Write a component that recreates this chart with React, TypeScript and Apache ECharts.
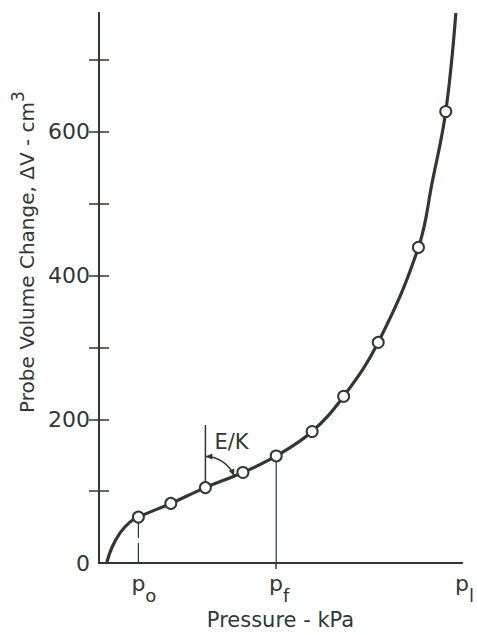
import React, { useEffect, useRef } from "react";
import * as echarts from "echarts";

// Measured points (pressure in arbitrary units 0..100 between origin and p_l; volume in cm3)
const pressure = [10.85, 19.78, 29.31, 39.64, 48.82, 58.71, 67.39, 76.92, 87.99, 95.52];
const volume = [64, 83, 105, 126, 149, 183, 232, 307, 439, 628];

// Points
const curvePressure = [2.1, 3.5, 5.8, 8.5, 10.85, 19.78, 29.31, 39.64, 48.82, 58.71, 67.39, 76.92, 87.99, 91.8, 95.52, 98.3];
const curveVolume = [0, 21, 42, 57, 64, 83, 105, 126, 149, 183, 232, 307, 439, 530, 628, 765];

const yTickValues = [100, 200, 300, 400, 500, 600, 700];
const yLabelValues = [0, 200, 400, 600];
const pO = 10.85;
const pF = 48.82;
const pL = 100;
const xLabelValues = [pO, pF, pL];
const xLabelSubs = ["o", "f", "l"];
const ekTop = 192;

const ink = "#2d3a32";
const font = "DejaVu Sans";

export default function App() {
  const ref = useRef<HTMLDivElement>(null);
  useEffect(() => {
    const chart = echarts.init(ref.current!, null, { renderer: "svg" });
    const pStyle = (padLeft: number) => ({
      fontSize: 22,
      fontFamily: font,
      color: ink,
      lineHeight: 32,
      verticalAlign: "top",
      padding: [0, 0, 0, padLeft],
    });
    const option: any = {
      animation: false,
      backgroundColor: "#ffffff",
      grid: { left: 99, right: 14, top: 13, bottom: 68 },
      xAxis: [
        {
          type: "value",
          min: 0,
          max: 100,
          position: "bottom",
          axisLine: { show: true, lineStyle: { color: ink, width: 2 } },
          splitLine: { show: false },
          axisTick: { show: true, customValues: [pF], length: 6, lineStyle: { color: ink, width: 1.5 } },
          axisLabel: {
            show: true,
            customValues: xLabelValues,
            margin: 9,
            formatter: (v: number) => {
              let i = 0;
              xLabelValues.forEach((x, k) => {
                if (Math.abs(x - v) < 1e-6) i = k;
              });
              return `{p${i}|p}{s|${xLabelSubs[i]}}`;
            },
            rich: {
              p0: pStyle(11),
              p1: pStyle(6),
              p2: pStyle(5),
              s: { fontSize: 18, fontFamily: font, color: ink, lineHeight: 18, verticalAlign: "bottom" },
            },
          },
          name: "Pressure - kPa",
          nameLocation: "middle",
          nameGap: 42,
          nameTextStyle: { fontSize: 21, fontFamily: font, color: ink },
        },
        {
          type: "value",
          min: 0,
          max: 100,
          position: "top",
          axisLine: { show: true, lineStyle: { color: ink, width: 2 } },
          axisTick: { show: false },
          axisLabel: { show: false },
          splitLine: { show: false },
        },
      ],
      yAxis: [
        {
          type: "value",
          min: 0,
          max: 765,
          position: "left",
          axisLine: { show: true, lineStyle: { color: ink, width: 2 } },
          axisTick: { show: true, inside: true, length: 10, customValues: yTickValues, lineStyle: { color: ink, width: 1.5 } },
          axisLabel: { show: true, customValues: yLabelValues, margin: 9, fontSize: 22, fontFamily: font, color: ink },
          splitLine: { show: false },
          name: "{t|Probe Volume Change, ΔV - cm}{sup|3}",
          nameLocation: "middle",
          nameGap: 62,
          nameRotate: 90,
          nameTextStyle: {
            fontSize: 20,
            fontFamily: font,
            color: ink,
            padding: [0, 0, 0, 72],
            rich: {
              t: { fontSize: 20, fontFamily: font, color: ink, lineHeight: 28, verticalAlign: "bottom" },
              sup: { fontSize: 17, fontFamily: font, color: ink, lineHeight: 17, verticalAlign: "top" },
            },
          },
        },
        {
          type: "value",
          min: 0,
          max: 765,
          position: "right",
          axisLine: { show: true, lineStyle: { color: ink, width: 2 } },
          axisTick: { show: true, inside: true, length: 10, customValues: yTickValues, lineStyle: { color: ink, width: 1.5 } },
          axisLabel: { show: false },
          splitLine: { show: false },
        },
      ],
      series: [
        {
          type: "line",
          data: curvePressure.map((x, i) => [x, curveVolume[i]]),
          smooth: 0.4,
          showSymbol: false,
          symbol: "none",
          lineStyle: { color: ink, width: 3.2 },
          z: 3,
        },
        {
          type: "line",
          data: [
            [pO, 0],
            [pO, volume[0]],
          ],
          symbol: "none",
          lineStyle: { color: ink, width: 1.2, type: [20, 5] },
          z: 2,
        },
        {
          type: "line",
          data: [
            [pF, 0],
            [pF, volume[4]],
          ],
          symbol: "none",
          lineStyle: { color: ink, width: 1.2 },
          z: 2,
        },
        {
          type: "custom",
          data: [[pressure[2], volume[2], ekTop, pressure[3], volume[3]]],
          encode: { x: 0, y: 1 },
          z: 2,
          renderItem: (_params: any, api: any) => {
            const c = api.coord([api.value(0), api.value(1)]);
            const t = api.coord([api.value(0), api.value(2)]);
            const n = api.coord([api.value(3), api.value(4)]);
            const ang = Math.atan2(n[1] - c[1], n[0] - c[0]);
            const r = 31;
            const a0 = -Math.PI / 2;
            const head = (theta: number, sign: number) => {
              const tip = [c[0] + r * Math.cos(theta), c[1] + r * Math.sin(theta)];
              const d = [-Math.sin(theta) * sign, Math.cos(theta) * sign];
              const L = 7;
              const w = 3;
              const b = [tip[0] - d[0] * L, tip[1] - d[1] * L];
              const pn = [-d[1], d[0]];
              return {
                type: "polygon",
                shape: {
                  points: [tip, [b[0] + pn[0] * w, b[1] + pn[1] * w], [b[0] - pn[0] * w, b[1] - pn[1] * w]],
                },
                style: { fill: ink },
              };
            };
            return {
              type: "group",
              children: [
                { type: "line", shape: { x1: c[0], y1: c[1], x2: t[0], y2: t[1] }, style: { stroke: ink, lineWidth: 1.5 } },
                {
                  type: "arc",
                  shape: { cx: c[0], cy: c[1], r, startAngle: a0, endAngle: ang, clockwise: true },
                  style: { stroke: ink, lineWidth: 1.5, fill: "none" },
                },
                head(a0, -1),
                head(ang, 1),
                {
                  type: "text",
                  x: c[0] + 9,
                  y: t[1] + 17,
                  style: { text: "E/K", fontSize: 21, fontFamily: font, fill: ink, verticalAlign: "middle", align: "left" },
                },
              ],
            };
          },
        },
        {
          type: "scatter",
          data: pressure.map((x, i) => [x, volume[i]]),
          symbol: "circle",
          symbolSize: 11,
          itemStyle: { color: "#ffffff", borderColor: ink, borderWidth: 2, opacity: 1 },
          z: 10,
        },
      ],
    };
    chart.setOption(option);
    return () => chart.dispose();
  }, []);
  return <div ref={ref} style={{ position: "fixed", left: 0, top: 0, width: 477, height: 635 }} />;
}
